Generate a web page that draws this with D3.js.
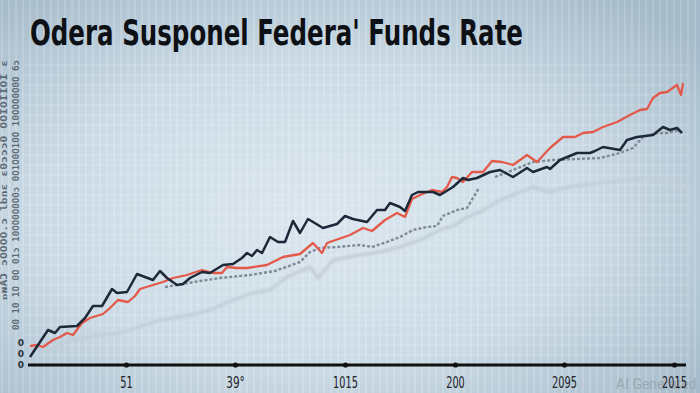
<!DOCTYPE html>
<html>
<head>
<meta charset="utf-8">
<script src="https://cdn.jsdelivr.net/npm/d3@7/dist/d3.min.js"></script>
<style>
  html, body { margin: 0; padding: 0; background: #c8d7e1; }
  svg { display: block; }
</style>
</head>
<body>
<div id="chart"></div>
<script>
// chart text
const title = "Odera Susponel Federa' Funds Rate";
const xTickValues = [101, 210, 320, 430, 539, 649];
const xTickLabels = ["51", "39°", "1015", "200", "2095", "2015"];
const yTickValues = [0, 11, 22];
const yTickLabels = ["0", "0", "0"];

// series values (period index, rate index)
const navyX = [5,23,30,35,52,60,68,77,87,92,102,112,128,135,142,152,158,165,177,185,198,208,217,222,227,232,237,245,253,260,268,275,283,298,312,320,328,342,352,360,365,375,380,387,393,408,415,428,438,443,452,465,475,488,502,508,522,525,535,552,565,570,578,595,602,612,628,638,645,652,657];
const navyY = [8,35,32,38,39,47,59,59,76,72,73,91,85,94,87,80,81,87,93,92,100,101,107,112,109,115,112,128,123,123,144,132,146,137,141,149,146,143,155,155,162,158,154,170,173,173,170,178,187,185,187,193,195,188,197,193,198,196,205,212,212,214,218,215,225,228,230,238,235,237,232];

const redX = [5,12,18,28,35,42,48,57,65,78,85,93,103,110,115,128,138,148,162,177,188,197,202,212,222,242,258,275,288,297,302,325,338,347,360,372,380,387,395,407,417,422,427,432,438,447,458,467,477,488,502,512,525,538,550,558,568,578,592,605,615,622,628,635,642,652,656,658];
const redY = [19,20,18,25,28,32,30,42,47,51,57,65,63,69,76,80,83,87,90,95,92,92,98,97,97,100,108,111,122,112,122,130,137,134,145,152,148,166,170,175,173,178,188,187,183,193,193,204,203,200,210,203,217,228,228,232,233,238,243,250,255,256,267,272,273,280,270,282];

const dashX = [140,175,195,225,250,275,285,295,312,335,347,362,375,388,402,412,418,432,442,448,454,462,470,488,508,528,552,575,595,608,618,632,642,655];
const dashY = [78,84,87,90,94,103,113,117,118,120,118,123,128,135,138,139,149,155,157,167,177,null,188,195,203,205,206,207,212,217,228,232,232,235];

const faintX = [20,45,75,95,135,165,185,208,228,245,262,285,293,308,335,355,375,395,415,430,442,455,475,508,525,542,575,605,625,642,662];
const faintY = [13,25,30,32,45,50,55,65,72,75,88,98,87,105,110,113,118,125,135,140,148,153,165,178,173,178,182,185,187,182,180];

const width = 700;
const height = 393;

const svg = d3.select("#chart")
  .append("svg")
  .attr("width", width)
  .attr("height", height);

const defs = svg.append("defs");

const bg = defs.append("radialGradient")
  .attr("id", "bg")
  .attr("cx", "45%").attr("cy", "55%")
  .attr("r", "70%");
bg.append("stop").attr("offset", "0%").attr("stop-color", "#dae6ee");
bg.append("stop").attr("offset", "55%").attr("stop-color", "#cbdbe6");
bg.append("stop").attr("offset", "100%").attr("stop-color", "#a6bbca");

const blur = defs.append("filter").attr("id", "soft");
blur.append("feGaussianBlur").attr("stdDeviation", 0.9);

svg.append("rect")
  .attr("width", width)
  .attr("height", height)
  .attr("fill", "url(#bg)");

// fine background grid
const grid = svg.append("g");
grid.selectAll(".vgrid")
  .data(d3.range(2, width, 7))
  .enter()
  .append("line")
  .attr("x1", d => d).attr("x2", d => d)
  .attr("y1", 0).attr("y2", height)
  .attr("stroke", "#ffffff")
  .attr("stroke-opacity", 0.28)
  .attr("stroke-width", 1.2);

grid.selectAll(".hgrid")
  .data(d3.range(65, 365, 10))
  .enter()
  .append("line")
  .attr("x1", 25).attr("x2", 690)
  .attr("y1", d => d).attr("y2", d => d)
  .attr("stroke", "#ffffff")
  .attr("stroke-opacity", 0.22);

const x = d3.scaleLinear().domain([0, 660]).range([25, 685]);
const y = d3.scaleLinear().domain([0, 300]).range([365, 65]);

function series(xs, ys) {
  return xs.map((v, i) => ({ x: v, y: ys[i] }));
}

const line = d3.line()
  .defined(d => d.y !== null)
  .x(d => x(d.x))
  .y(d => y(d.y));

// faint background series
svg.append("path")
  .datum(series(faintX, faintY))
  .attr("d", line)
  .attr("fill", "none")
  .attr("stroke", "#c3cfd9")
  .attr("stroke-width", 3.4)
  .attr("stroke-linejoin", "round")
  .attr("filter", "url(#soft)");

// dashed grey series
svg.append("path")
  .datum(series(dashX, dashY))
  .attr("d", line)
  .attr("fill", "none")
  .attr("stroke", "#7e8a94")
  .attr("stroke-width", 2.4)
  .attr("stroke-dasharray", "3,2")
  .attr("stroke-linejoin", "round");

// red series
svg.append("path")
  .datum(series(redX, redY))
  .attr("d", line)
  .attr("fill", "none")
  .attr("stroke", "#e35a4a")
  .attr("stroke-width", 2.3)
  .attr("stroke-linejoin", "round");

// navy series
svg.append("path")
  .datum(series(navyX, navyY))
  .attr("d", line)
  .attr("fill", "none")
  .attr("stroke", "#1d2838")
  .attr("stroke-width", 2.5)
  .attr("stroke-linejoin", "round");

// x axis
const xAxis = d3.axisBottom(x)
  .tickValues(xTickValues)
  .tickFormat((d, i) => xTickLabels[i])
  .tickSize(0)
  .tickPadding(12);

const xg = svg.append("g")
  .attr("transform", `translate(0,${y(0)})`)
  .call(xAxis);

xg.select(".domain").remove();

xg.insert("line", ":first-child")
  .attr("x1", 28).attr("x2", 686)
  .attr("stroke", "#111")
  .attr("stroke-width", 3.2);

xg.selectAll(".tick")
  .append("circle")
  .attr("r", 2.6)
  .attr("fill", "#111");

// watermark sits under the last label
svg.insert("text", "g:last-of-type")
  .attr("x", 616)
  .attr("y", 389)
  .attr("font-family", "Roboto, 'Noto Sans', sans-serif")
  .attr("font-size", 14)
  .attr("fill", "#9ca8b0")
  .text("AI Generated");

xg.selectAll(".tick text")
  .attr("font-family", "'Liberation Sans Narrow', 'DejaVu Sans Condensed', sans-serif")
  .attr("font-size", 16)
  .attr("fill", "#1e2226")
  .attr("textLength", (d, i) => xTickLabels[i].length * 6.2)
  .attr("lengthAdjust", "spacingAndGlyphs");

// y axis, small labels
const yAxis = d3.axisLeft(y)
  .tickValues(yTickValues)
  .tickFormat((d, i) => yTickLabels[i])
  .tickSize(0)
  .tickPadding(0);

const yg = svg.append("g")
  .attr("transform", "translate(24,0)")
  .call(yAxis);

yg.select(".domain").remove();
yg.selectAll(".tick text")
  .attr("font-family", "'DejaVu Sans', sans-serif")
  .attr("font-size", 9)
  .attr("font-weight", "bold")
  .attr("fill", "#2a323a");

// rotated side labels
const sideLabels = [
  { text: "00 10 1O 0O 01ɔ 10OO0O0O0ɔ 0O1O0O10O 10OOO0O0O 6ɔ", x: 19, y0: 330, len: 270 },
  { text: "ᴅɴAƆ ɔOOOO.ɔ lbnɛ ɛ0ɔɔɔ0 OOIOIIOI ɛ", x: 7, y0: 300, len: 240 }
];

svg.selectAll(".side")
  .data(sideLabels)
  .enter()
  .append("text")
  .attr("transform", d => `translate(${d.x},${d.y0}) rotate(-90)`)
  .attr("font-family", "'DejaVu Sans Mono', monospace")
  .attr("font-size", 9)
  .attr("font-weight", "bold")
  .attr("fill", "#3a4550")
  .attr("fill-opacity", 0.75)
  .attr("textLength", d => d.len)
  .attr("lengthAdjust", "spacingAndGlyphs")
  .text(d => d.text);

// title
svg.append("text")
  .attr("x", 30)
  .attr("y", 45)
  .attr("font-family", "'Liberation Sans Narrow', 'DejaVu Sans Condensed', 'DejaVu Sans', sans-serif")
  .attr("font-weight", "bold")
  .attr("font-size", 36)
  .attr("fill", "#0d1014")
  .attr("textLength", 493)
  .attr("lengthAdjust", "spacingAndGlyphs")
  .text(title);
</script>
</body>
</html>
